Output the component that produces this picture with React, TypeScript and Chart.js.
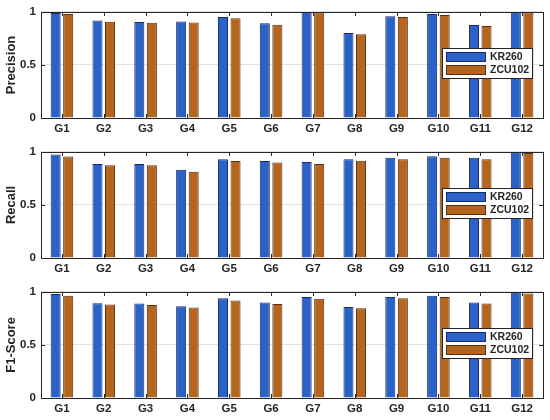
import React, { useEffect, useRef } from "react";
import { Chart, registerables } from "chart.js";

Chart.register(...registerables);

const categories = ["G1", "G2", "G3", "G4", "G5", "G6", "G7", "G8", "G9", "G10", "G11", "G12"];
const seriesNames = ["KR260", "ZCU102"];

const precisionKR260 = [0.99, 0.92, 0.905, 0.91, 0.953, 0.894, 1.0, 0.8, 0.96, 0.98, 0.876, 1.0];
const precisionZCU102 = [0.98, 0.906, 0.897, 0.9, 0.94, 0.88, 0.995, 0.79, 0.953, 0.97, 0.866, 0.995];

const recallKR260 = [0.975, 0.887, 0.887, 0.832, 0.93, 0.914, 0.905, 0.93, 0.945, 0.96, 0.945, 1.0];
const recallZCU102 = [0.957, 0.875, 0.875, 0.814, 0.914, 0.9, 0.887, 0.917, 0.93, 0.945, 0.93, 0.99];

const f1KR260 = [0.98, 0.894, 0.89, 0.864, 0.94, 0.9, 0.952, 0.857, 0.952, 0.964, 0.9, 1.0];
const f1ZCU102 = [0.964, 0.882, 0.876, 0.852, 0.918, 0.885, 0.936, 0.845, 0.94, 0.952, 0.89, 0.985];

const yTicks = [0, 0.5, 1];

const FONT = '"Liberation Sans", Arial, sans-serif';
const DARK = "#262626";
const COLORS = ["#2a62c8", "#b5651d"];
const BORDERS = ["#1a2a66", "#5a3010"];

const boxPlugin = {
  id: "matlabBox",
  afterDatasetsDraw(chart: any) {
    const { ctx, chartArea } = chart;
    const { left, right, top, bottom } = chartArea;
    const xs = chart.scales.x;
    const ys = chart.scales.y;
    ctx.save();
    ctx.strokeStyle = DARK;
    ctx.lineWidth = 1;
    ctx.beginPath();
    for (let i = 0; i < categories.length; i++) {
      const x = Math.round(xs.getPixelForValue(i)) + 0.5;
      ctx.moveTo(x, top);
      ctx.lineTo(x, top + 4);
      ctx.moveTo(x, bottom);
      ctx.lineTo(x, bottom - 4);
    }
    for (const v of yTicks) {
      const y = Math.round(ys.getPixelForValue(v)) + 0.5;
      ctx.moveTo(left, y);
      ctx.lineTo(left + 4, y);
      ctx.moveTo(right, y);
      ctx.lineTo(right - 4, y);
    }
    ctx.stroke();
    ctx.strokeRect(Math.round(left) + 0.5, Math.round(top) + 0.5, Math.round(right - left), Math.round(bottom - top));

    // legend box
    const lx = 442;
    const ly = 48;
    const lw = 90;
    const lh = 30;
    ctx.fillStyle = "#ffffff";
    ctx.fillRect(lx, ly, lw, lh);
    ctx.strokeStyle = DARK;
    ctx.strokeRect(lx + 0.5, ly + 0.5, lw, lh);
    ctx.font = "bold 10.5px " + FONT;
    ctx.textBaseline = "middle";
    ctx.textAlign = "left";
    chart.data.datasets.forEach((ds: any, i: number) => {
      const sy = ly + 4 + i * 13;
      ctx.fillStyle = ds.backgroundColor;
      ctx.fillRect(lx + 4, sy, 40, 10);
      ctx.strokeStyle = ds.borderColor;
      ctx.strokeRect(lx + 4.5, sy + 0.5, 39, 9);
      ctx.fillStyle = DARK;
      ctx.fillText(ds.label, lx + 48, sy + 5.5);
    });
    ctx.restore();
  },
};

function Panel({ title, a, b }: { title: string; a: number[]; b: number[] }) {
  const ref = useRef<HTMLCanvasElement>(null);
  useEffect(() => {
    if (!ref.current) return;
    const chart = new Chart(ref.current, {
      type: "bar",
      data: {
        labels: categories,
        datasets: [
          {
            label: seriesNames[0],
            data: a,
            backgroundColor: COLORS[0],
            borderColor: BORDERS[0],
            borderWidth: 1,
            barPercentage: 0.8,
            categoryPercentage: 0.6,
          },
          {
            label: seriesNames[1],
            data: b,
            backgroundColor: COLORS[1],
            borderColor: BORDERS[1],
            borderWidth: 1,
            barPercentage: 0.8,
            categoryPercentage: 0.6,
          },
        ],
      },
      options: {
        animation: false,
        responsive: false,
        maintainAspectRatio: false,
        layout: { padding: { left: 0, right: 7, top: 9, bottom: 0 } },
        plugins: { legend: { display: false }, tooltip: { enabled: false } },
        scales: {
          x: {
            grid: { display: false, drawTicks: false },
            border: { display: false },
            ticks: {
              color: DARK,
              padding: 4,
              maxRotation: 0,
              autoSkip: false,
              font: { family: FONT, size: 11.5, weight: "bold" },
            },
            afterFit: (s: any) => {
              s.height = 22;
            },
          },
          y: {
            min: 0,
            max: 1,
            afterBuildTicks: (s: any) => {
              s.ticks = yTicks.map((v) => ({ value: v }));
            },
            grid: { color: "#e2e2e2", drawTicks: false },
            border: { display: false },
            ticks: {
              color: DARK,
              padding: 5,
              font: { family: FONT, size: 11.5, weight: "bold" },
              callback: (v: any) => String(v),
            },
            title: {
              display: true,
              text: title,
              color: DARK,
              padding: { top: 4, bottom: 0 },
              font: { family: FONT, size: 13, weight: "bold" },
            },
            afterFit: (s: any) => {
              s.width = 41;
            },
          },
        },
      },
      plugins: [boxPlugin],
    } as any);
    return () => chart.destroy();
  }, [title, a, b]);
  return (
    <div style={{ width: 550, height: 140, position: "relative" }}>
      <canvas ref={ref} width={550} height={140} style={{ display: "block" }} />
    </div>
  );
}

export default function App() {
  return (
    <div style={{ position: "fixed", left: 0, top: 0, width: 550, height: 420, background: "#ffffff" }}>
      <Panel title="Precision" a={precisionKR260} b={precisionZCU102} />
      <Panel title="Recall" a={recallKR260} b={recallZCU102} />
      <Panel title="F1-Score" a={f1KR260} b={f1ZCU102} />
    </div>
  );
}
